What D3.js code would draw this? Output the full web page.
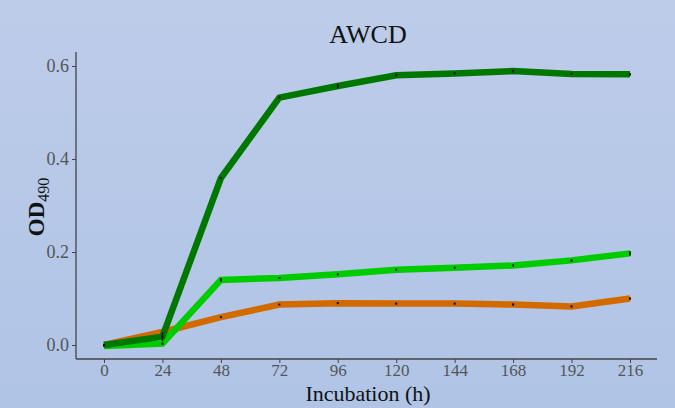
<!DOCTYPE html>
<html><head><meta charset="utf-8">
<script src="https://cdn.jsdelivr.net/npm/d3@7"></script>
<style>
html,body{margin:0;padding:0;}
svg{display:block;}
</style></head>
<body>
<svg id="chart" width="675" height="408"></svg>
<script>
const hours = [0, 24, 48, 72, 96, 120, 144, 168, 192, 216];
const xTicks = [0, 24, 48, 72, 96, 120, 144, 168, 192, 216];
const yTicks = [0.0, 0.2, 0.4, 0.6];
const seriesNames = ["orange", "lightgreen", "darkgreen"];
const orangeValues = [0.000, 0.028, 0.060, 0.087, 0.090, 0.089, 0.089, 0.087, 0.083, 0.100];
const orangeErrors = [0.001, 0.002, 0.001, 0.001, 0.002, 0.002, 0.002, 0.002, 0.002, 0.002];
const lightGreenValues = [-0.002, 0.003, 0.140, 0.144, 0.152, 0.162, 0.166, 0.171, 0.182, 0.197];
const lightGreenErrors = [0.001, 0.002, 0.004, 0.002, 0.001, 0.002, 0.002, 0.002, 0.003, 0.005];
const darkGreenValues = [0.000, 0.018, 0.359, 0.532, 0.557, 0.580, 0.584, 0.589, 0.583, 0.582];
const darkGreenErrors = [0.001, 0.010, 0.002, 0.002, 0.005, 0.002, 0.002, 0.003, 0.002, 0.003];
const colors = ["#d26a00", "#00cc00", "#007800"];

const FONT = "'Liberation Serif', 'Times New Roman', serif";
const svg = d3.select("#chart");
const W = 675, H = 408;
const defs = svg.append("defs");
const grad = defs.append("linearGradient").attr("id", "bg").attr("x1", 0).attr("y1", 0).attr("x2", 0).attr("y2", 1);
grad.append("stop").attr("offset", "0%").attr("stop-color", "#bdcce9");
grad.append("stop").attr("offset", "100%").attr("stop-color", "#b0c4e6");
svg.append("rect").attr("width", W).attr("height", H).attr("fill", "url(#bg)");

const x = d3.scaleLinear().domain([0, 216]).range([104, 630]);
const y = d3.scaleLinear().domain([0, 0.6]).range([345, 66]);

// axes
const xAxis = svg.append("g").attr("transform", "translate(0,359)")
  .call(d3.axisBottom(x).tickValues(xTicks).tickFormat(d3.format("d")).tickSizeOuter(0).tickSize(4));
xAxis.attr("font-family", FONT);
xAxis.select(".domain").attr("d", "M76,0H657").attr("stroke", "#444").attr("stroke-width", 1.3);
xAxis.selectAll(".tick line").attr("stroke", "#444");
xAxis.selectAll(".tick text").style("font-family", FONT)
  .attr("font-size", 17).attr("fill", "#555").attr("dy", "0.75em").attr("y", 4);

const yAxis = svg.append("g").attr("transform", "translate(76,0)")
  .call(d3.axisLeft(y).tickValues(yTicks).tickFormat(d3.format(".1f")).tickSizeOuter(0).tickSize(4));
yAxis.attr("font-family", FONT);
yAxis.select(".domain").attr("d", "M0,52V359").attr("stroke", "#444").attr("stroke-width", 1.3);
yAxis.selectAll(".tick line").attr("stroke", "#444");
yAxis.selectAll(".tick text").style("font-family", FONT)
  .attr("font-size", 18).attr("fill", "#555").attr("x", -7);

// series
const allValues = [orangeValues, lightGreenValues, darkGreenValues];
const allErrors = [orangeErrors, lightGreenErrors, darkGreenErrors];
const line = d3.line().x(d => x(d.h)).y(d => y(d.v));
seriesNames.forEach((name, i) => {
  const data = hours.map((h, j) => ({h, v: allValues[i][j], e: allErrors[i][j]}));
  const g = svg.append("g").attr("class", "series-" + name);
  g.append("path").datum(data).attr("d", line).attr("fill", "none")
    .attr("stroke", colors[i]).attr("stroke-width", 6.5).attr("stroke-linejoin", "miter");
  g.selectAll("line.err").data(data).join("line").attr("class", "err")
    .attr("x1", d => x(d.h)).attr("x2", d => x(d.h))
    .attr("y1", d => y(d.v - d.e)).attr("y2", d => y(d.v + d.e))
    .attr("stroke", "#111").attr("stroke-width", 1.4);
  g.selectAll("rect.pt").data(data).join("rect").attr("class", "pt")
    .attr("x", d => x(d.h) - 1).attr("y", d => y(d.v) - 1).attr("width", 2).attr("height", 2).attr("fill", "#111");
});

// titles
svg.append("text").attr("x", 368).attr("y", 43).attr("text-anchor", "middle")
  .style("font-family", FONT).attr("font-size", 26).attr("fill", "#111").text("AWCD");
svg.append("text").attr("x", 368).attr("y", 401).attr("text-anchor", "middle")
  .style("font-family", FONT).attr("font-size", 22).attr("fill", "#111").text("Incubation (h)");
const yl = svg.append("text").attr("transform", "translate(44,207) rotate(-90)").attr("text-anchor", "middle")
  .style("font-family", FONT).attr("font-size", 23).attr("font-weight", "bold").attr("fill", "#111");
yl.append("tspan").text("OD");
yl.append("tspan").attr("font-size", 16).attr("font-weight", "normal").attr("dy", 5).text("490");
</script>
</body></html>
